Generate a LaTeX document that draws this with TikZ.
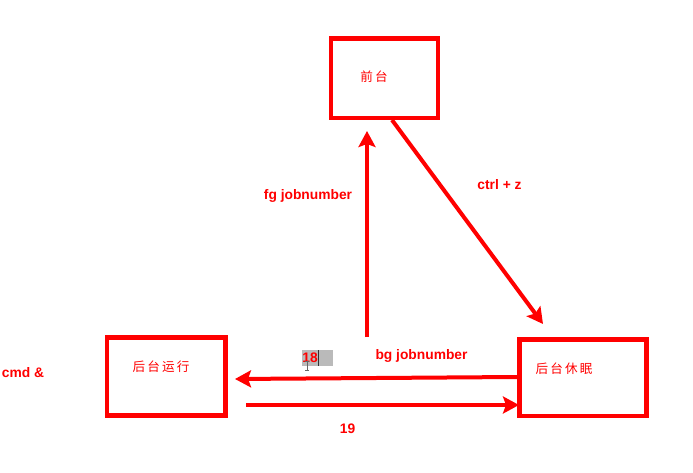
\documentclass[tikz,border=0pt]{standalone}
\usepackage{fontspec}
\setmainfont{Liberation Sans}
\newfontfamily\cjk{Noto Sans CJK SC}
\usetikzlibrary{arrows.meta}
\definecolor{pured}{RGB}{255,0,0}
\begin{document}
\begin{tikzpicture}[x=1pt,y=-1pt,
  statebox/.style={draw=pured,line width=4.5pt,fill=none},
  cjklabel/.style={text=pured,font=\cjk\fontsize{12.6}{14}\selectfont},
  edgelabel/.style={text=pured,font=\bfseries\fontsize{13.8}{15}\selectfont,inner sep=0pt},
  conn/.style={draw=pured,line width=4pt,-{Stealth[length=16pt,width=17pt,inset=3pt]}}]
\useasboundingbox (0,0) rectangle (693,473);
\fill[white] (0,0) rectangle (693,473);
% boxes
\draw[statebox] (331,38.5) rectangle (438,118);
\draw[statebox] (107,337.5) rectangle (225.5,415.5);
\draw[statebox] (519.5,339.5) rectangle (646.5,416);
\node[cjklabel] (fg) at (374,77) {前\,台};
\node[cjklabel] (run) at (161,367) {后\,台\,运\,行};
\node[cjklabel] (sleep) at (564,369) {后\,台\,休\,眠};
% connector endpoints
\coordinate (upS) at (367,337);
\coordinate (upE) at (367,131);
\coordinate (dgS) at (392,120);
\coordinate (dgE) at (543,324);
\coordinate (lS) at (517,377);
\coordinate (lE) at (235,379);
\coordinate (rS) at (246,405);
\coordinate (rE) at (519,405);
\draw[conn] (upS) -- (upE);
\draw[conn] (dgS) -- (dgE);
\draw[conn] (lS) -- (lE);
\draw[conn] (rS) -- (rE);
% labels
\node[edgelabel] (lfg) at (308,195.5) {fg jobnumber};
\node[edgelabel] (lctrl) at (499.5,185) {ctrl + z};
\node[edgelabel] (lbg) at (421.5,355.5) {bg jobnumber};
\node[edgelabel] (l19) at (347.5,429) {19};
\node[edgelabel] (lcmd) at (23,373) {cmd \&};
% highlighted 18
\fill[black!27] (302,350) rectangle (333,366);
\node[edgelabel] (l18) at (310,358) {18};
\draw[black!80,line width=1pt] (318,350) -- (318,366);
\draw[black!60,line width=0.7pt] (307,361) -- (307,370) (305,361) -- (309,361) (305,370) -- (309,370);
\end{tikzpicture}
\end{document}
